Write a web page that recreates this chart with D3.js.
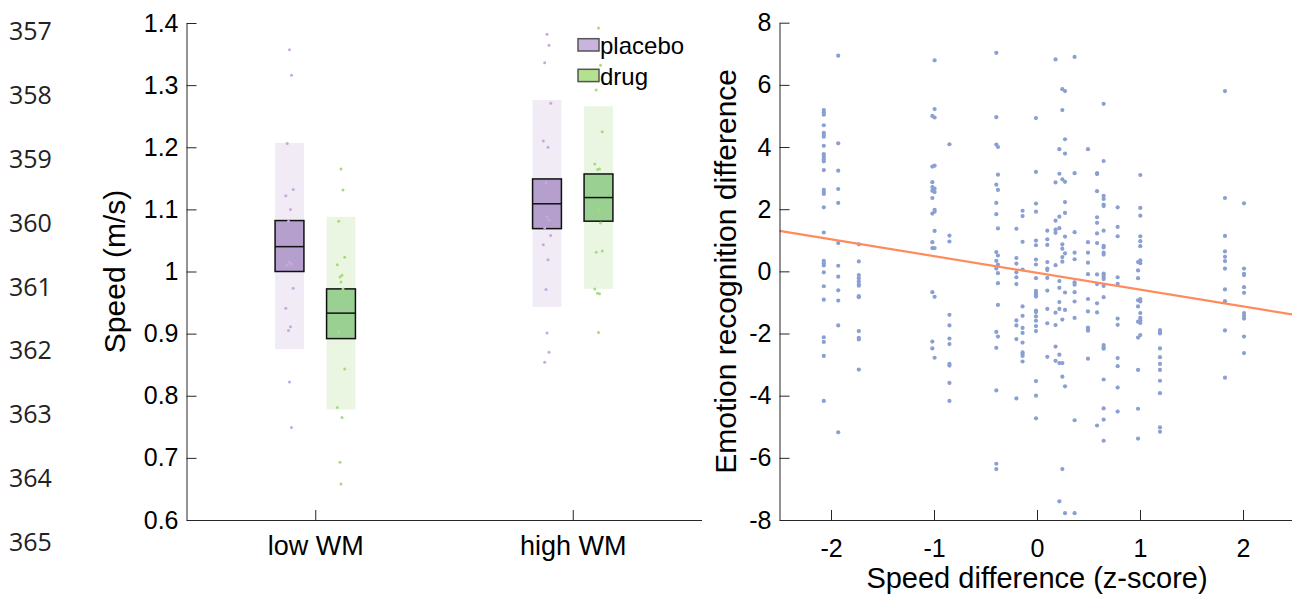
<!DOCTYPE html>
<html>
<head>
<meta charset="utf-8">
<script src="https://cdn.jsdelivr.net/npm/d3@7"></script>
<style>
  html, body { margin: 0; padding: 0; background: #fff; }
  svg { display: block; font-family: "Liberation Sans", Arial, Helvetica, sans-serif; }
</style>
</head>
<body>
<svg id="chart" width="1292" height="597"></svg>
<script>
// manuscript line numbers down the margin
const lineNumbers = [357, 358, 359, 360, 361, 362, 363, 364, 365, 366];

// ---- left panel: speed by WM group ----
const groups = ['low WM', 'high WM'];
const conditions = ['placebo', 'drug'];

// per group [low WM, high WM]
const placeboMean = [1.040, 1.109];
const placeboBoxLo = [1.000, 1.069];
const placeboBoxHi = [1.082, 1.149];
const placeboBandLo = [0.875, 0.943];
const placeboBandHi = [1.207, 1.276];

const drugMean = [0.933, 1.119];
const drugBoxLo = [0.892, 1.081];
const drugBoxHi = [0.972, 1.157];
const drugBandLo = [0.778, 0.972];
const drugBandHi = [1.088, 1.266];

const placeboSpeedLow = [1.357, 1.316, 1.206, 1.132, 1.122, 1.100, 1.081, 1.015, 1.012, 1.010, 0.973, 0.941, 0.911, 0.905, 0.822, 0.749];
const drugSpeedLow = [1.165, 1.131, 1.081, 1.023, 1.011, 0.994, 0.991, 0.983, 0.972, 0.903, 0.843, 0.781, 0.765, 0.693, 0.658];
const placeboSpeedHigh = [1.382, 1.364, 1.336, 1.271, 1.210, 1.200, 1.143, 1.088, 1.083, 1.070, 1.058, 1.043, 1.019, 0.971, 0.901, 0.870, 0.854];
const drugSpeedHigh = [1.392, 1.332, 1.292, 1.225, 1.173, 1.165, 1.164, 1.100, 1.078, 1.031, 1.033, 0.972, 0.964, 0.965, 0.902];

const speedTicks = [0.6, 0.7, 0.8, 0.9, 1.0, 1.1, 1.2, 1.3, 1.4];

// ---- right panel: emotion recognition vs speed difference ----
const speedDiffX = [-2.07, -1.93, -1.73, -1.016, -0.994, -0.85, -0.395, -0.379, -0.20, -0.14, -0.01, 0.10, 0.18,
  0.217, 0.246, 0.272, 0.365, 0.495, 0.583, 0.647, 0.783, 0.981, 1.003, 1.194, 1.825, 2.01];
const emotionDiffY = [
  [5.19, 5.12, 5.04, 4.70, 4.46, 4.39, 4.33, 4.04, 3.77, 3.69, 3.61, 3.54, 3.26, 2.62, 2.55, 2.49, 2.06, 1.25, 0.34, 0.26, 0.19, -0.03, -0.48, -0.91, -2.12, -2.27, -2.72, -4.17],
  [6.94, 4.12, 3.24, 2.65, 2.20, 0.91, 0.18, -0.17, -0.61, -0.94, -1.74, -5.18],
  [0.87, 0.32, -0.12, -0.22, -0.32, -0.41, -0.46, -0.80, -0.83, -1.92, -2.14, -2.19, -3.16],
  [5.00, 3.37, 2.87, 2.71, 2.59, 2.36, 1.86, 0.94, 0.75, -0.67, -2.26, -2.48],
  [6.79, 5.22, 4.95, 3.40, 2.66, 2.55, 1.98, 1.92, 1.30, 0.75, -0.82, -2.78],
  [4.09, 1.15, 0.96, -1.40, -1.74, -2.16, -2.34, -2.98, -3.03, -3.59, -4.17],
  [7.03, 4.96, 4.08, 2.79, 2.20, 1.84, 0.62, 0.34, 0.09, -1.95, -2.46, -3.83, -6.19, -6.36],
  [4.00, 3.11, 2.62, 1.38, 0.51, 0.22, -0.06, -0.38, -1.08, -2.10],
  [1.37, 0.43, 0.25, -0.03, -0.19, -0.41, -1.58, -1.74, -2.18, -4.09],
  [1.95, 1.78, 0.95, 0.06, -1.13, -1.43, -1.82, -1.98, -2.29, -2.61, -2.66, -2.72, -2.90],
  [4.93, 3.20, 2.18, 1.92, 0.99, 0.84, 0.38, 0.22, -0.22, -0.63, -0.69, -0.75, -0.81, -1.26, -1.31, -1.45, -1.59, -1.76, -1.92, -3.53, -4.00, -4.73],
  [1.31, 1.03, 0.85, 0.30, 0.09, 0.04, -0.21, -0.62, -1.21, -1.67, -2.75],
  [6.82, 2.86, 1.63, 1.34, 1.24, 0.20, -1.33, -1.73, -2.42, -2.88],
  [3.93, 3.14, 1.76, 1.39, -0.31, -0.53, -0.99, -1.21, -2.68, -2.95, -7.40],
  [5.86, 5.19, 2.96, 0.87, 0.73, 0.46, 0.31, -1.55, -2.95, -3.39, -6.36],
  [5.80, 4.25, 3.79, 2.88, 2.23, 1.88, 1.12, 0.58, -0.68, -1.24, -3.70, -7.78],
  [6.90, 3.16, 1.26, 0.60, 0.39, -0.35, -0.43, -0.67, -0.97, -1.50, -4.79, -7.78],
  [3.93, 0.94, 0.60, 0.28, -0.09, -0.89, -1.29, -1.81, -1.86, -1.91, -2.81],
  [3.16, 3.13, 2.58, 1.74, 1.56, 1.22, 0.91, -0.10, -0.41, -1.03, -1.32, -4.96],
  [5.39, 3.55, 2.43, 2.33, 2.15, 2.10, 1.31, 0.82, 0.77, 0.60, 0.54, -0.07, -0.12, -0.18, -0.25, -0.47, -0.83, -2.37, -2.44, -2.49, -3.48, -4.41, -4.77, -5.45],
  [2.06, 1.43, 1.13, -0.19, -0.40, -1.52, -1.72, -2.79, -3.05, -3.74, -4.51],
  [0.30, 0.03, -0.22, -0.93, -1.13, -1.62, -2.13, -3.17, -4.42, -5.38],
  [3.10, 2.04, 1.79, 1.13, 0.97, 0.81, 0.35, 0.26, -0.89, -0.97, -1.34, -1.50, -1.57, -1.66, -2.05],
  [-1.89, -1.95, -2.00, -2.48, -2.76, -2.98, -3.17, -3.52, -3.92, -5.02, -5.16],
  [5.80, 2.36, 1.14, 0.64, 0.47, 0.33, 0.09, -0.58, -0.96, -1.90, -3.42],
  [2.19, 0.09, -0.08, -0.12, -0.51, -0.69, -1.34, -1.43, -1.52, -2.10, -2.63]
];
// least squares line: [intercept, slope]
const fitLine = [-0.05, -0.54];
const emotionTicks = [-8, -6, -4, -2, 0, 2, 4, 6, 8];
const speedDiffTicks = [-2, -1, 0, 1, 2];

const colors = {
  placeboBox: '#b49fcd', placeboBand: '#f1ebf5', placeboDot: '#c8a8de', placeboSwatch: '#c8b4dd',
  drugBox: '#9bd093', drugBand: '#ebf6e2', drugDot: '#a6dc7a', drugSwatch: '#b4e18f',
  scatter: '#8a9fd2', fit: '#ff8b5c', axis: '#262626'
};

const svg = d3.select('#chart');

// line numbers
const yLine = d3.scaleLinear().domain([357, 365]).range([30, 541]);
svg.append('g')
  .selectAll('text')
  .data(lineNumbers)
  .join('text')
  .attr('x', 9)
  .attr('y', d => yLine(d))
  .attr('dominant-baseline', 'central')
  .attr('font-family', '"Open Sans", "Noto Sans", sans-serif')
  .attr('font-size', '25px')
  .attr('fill', '#222')
  .text(d => d);

// ================= left panel =================
const xL = d3.scaleLinear().domain([0.5, 2.5]).range([186.5, 701.5]);
const yL = d3.scaleLinear().domain([0.6, 1.4]).range([520, 23]);
const condOffset = { placebo: -0.1, drug: 0.1 };
const boxW = xL(0.612) - xL(0.5);

const stats = [];
groups.forEach((g, i) => {
  stats.push({ cond: 'placebo', pos: i + 1, mean: placeboMean[i], lo: placeboBoxLo[i], hi: placeboBoxHi[i], bLo: placeboBandLo[i], bHi: placeboBandHi[i] });
  stats.push({ cond: 'drug', pos: i + 1, mean: drugMean[i], lo: drugBoxLo[i], hi: drugBoxHi[i], bLo: drugBandLo[i], bHi: drugBandHi[i] });
});
const cx = d => xL(d.pos + condOffset[d.cond]);

const left = svg.append('g');

// light bands
left.selectAll('.band')
  .data(stats)
  .join('rect')
  .attr('class', 'band')
  .attr('x', d => cx(d) - boxW / 2)
  .attr('width', boxW)
  .attr('y', d => yL(d.bHi))
  .attr('height', d => yL(d.bLo) - yL(d.bHi))
  .attr('fill', d => d.cond === 'placebo' ? colors.placeboBand : colors.drugBand);

// boxes
left.selectAll('.box')
  .data(stats)
  .join('rect')
  .attr('class', 'box')
  .attr('x', d => cx(d) - boxW / 2)
  .attr('width', boxW)
  .attr('y', d => yL(d.hi))
  .attr('height', d => yL(d.lo) - yL(d.hi))
  .attr('fill', d => d.cond === 'placebo' ? colors.placeboBox : colors.drugBox)
  .attr('stroke', '#111')
  .attr('stroke-width', 1.5);

left.selectAll('.mean')
  .data(stats)
  .join('line')
  .attr('class', 'mean')
  .attr('x1', d => cx(d) - boxW / 2)
  .attr('x2', d => cx(d) + boxW / 2)
  .attr('y1', d => yL(d.mean))
  .attr('y2', d => yL(d.mean))
  .attr('stroke', '#111')
  .attr('stroke-width', 1.5);

// individual subjects
const jitter = [0, 2, -2.3, 3.7, -3.7, 1, -1];
const dots = [];
[[placeboSpeedLow, 'placebo', 1], [drugSpeedLow, 'drug', 1], [placeboSpeedHigh, 'placebo', 2], [drugSpeedHigh, 'drug', 2]]
  .forEach(([vals, cond, pos]) => vals.forEach((v, i) => dots.push({ v, cond, pos, j: jitter[i % jitter.length] })));

left.selectAll('.dot')
  .data(dots)
  .join('circle')
  .attr('class', 'dot')
  .attr('cx', d => xL(d.pos + condOffset[d.cond]) + d.j)
  .attr('cy', d => yL(d.v))
  .attr('r', 1.5)
  .attr('fill', d => d.cond === 'placebo' ? colors.placeboDot : colors.drugDot);

// axes (inward ticks like matlab)
const yAxisL = left.append('g')
  .attr('transform', `translate(${xL(0.5)},0)`)
  .call(d3.axisLeft(yL).tickValues(speedTicks).tickSizeInner(-10).tickSizeOuter(0).tickPadding(8)
    .tickFormat(d => String(+d.toFixed(1))));
const xAxisL = left.append('g')
  .attr('transform', `translate(0,${yL(0.6)})`)
  .call(d3.axisBottom(xL).tickValues([1, 2]).tickSizeInner(-10).tickSizeOuter(0).tickPadding(16)
    .tickFormat(d => groups[d - 1]));
xAxisL.selectAll('text').attr('font-size', '27px');
yAxisL.selectAll('text').attr('font-size', '25px');

left.append('text')
  .attr('transform', `translate(125,${(yL(0.6) + yL(1.4)) / 2}) rotate(-90)`)
  .attr('text-anchor', 'middle')
  .attr('font-size', '30px')
  .attr('fill', '#000')
  .text('Speed (m/s)');

// legend
const legend = left.append('g')
  .selectAll('g')
  .data(conditions)
  .join('g')
  .attr('transform', (d, i) => `translate(578,${38.7 + i * 30.6})`);
legend.append('rect')
  .attr('width', 21).attr('height', 12.3)
  .attr('fill', d => d === 'placebo' ? colors.placeboSwatch : colors.drugSwatch)
  .attr('stroke', '#555').attr('stroke-width', 1.5);
legend.append('text')
  .attr('x', 22).attr('y', 15.5)
  .attr('font-size', '24px')
  .attr('fill', '#000')
  .text(d => d);

// ================= right panel =================
const xR = d3.scaleLinear().domain([-2.5, 2.5]).range([779.5, 1294.5]);
const yR = d3.scaleLinear().domain([-8, 8]).range([520, 22.7]);
const right = svg.append('g');

const pts = [];
speedDiffX.forEach((x, i) => emotionDiffY[i].forEach(y => pts.push({ x, y })));

right.selectAll('.pt')
  .data(pts)
  .join('circle')
  .attr('class', 'pt')
  .attr('cx', d => xR(d.x))
  .attr('cy', d => yR(d.y))
  .attr('r', 2.1)
  .attr('fill', colors.scatter);

right.append('line')
  .attr('x1', xR(-2.5)).attr('y1', yR(fitLine[0] + fitLine[1] * -2.5))
  .attr('x2', xR(2.5)).attr('y2', yR(fitLine[0] + fitLine[1] * 2.5))
  .attr('stroke', colors.fit)
  .attr('stroke-width', 2.2);

const yAxisR = right.append('g')
  .attr('transform', `translate(${xR(-2.5)},0)`)
  .call(d3.axisLeft(yR).tickValues(emotionTicks).tickSizeInner(-10).tickSizeOuter(0).tickPadding(8)
    .tickFormat(d => String(d)));
const xAxisR = right.append('g')
  .attr('transform', `translate(0,${yR(-8)})`)
  .call(d3.axisBottom(xR).tickValues(speedDiffTicks).tickSizeInner(-10).tickSizeOuter(0).tickPadding(19)
    .tickFormat(d => String(d)));
yAxisR.selectAll('text').attr('font-size', '25px');
xAxisR.selectAll('text').attr('font-size', '25px');

right.append('text')
  .attr('transform', `translate(736,${(yR(-8) + yR(8)) / 2}) rotate(-90)`)
  .attr('text-anchor', 'middle')
  .attr('font-size', '30px')
  .attr('fill', '#000')
  .text('Emotion recognition difference');

right.append('text')
  .attr('x', xR(0))
  .attr('y', 588)
  .attr('text-anchor', 'middle')
  .attr('font-size', '29px')
  .attr('fill', '#000')
  .text('Speed difference (z-score)');

// shared axis styling
svg.selectAll('.domain, .tick line').attr('stroke', colors.axis).attr('stroke-width', 1);
svg.selectAll('.tick text').attr('fill', '#000').attr('font-family', '"Liberation Sans", Arial, sans-serif');
</script>
</body>
</html>
